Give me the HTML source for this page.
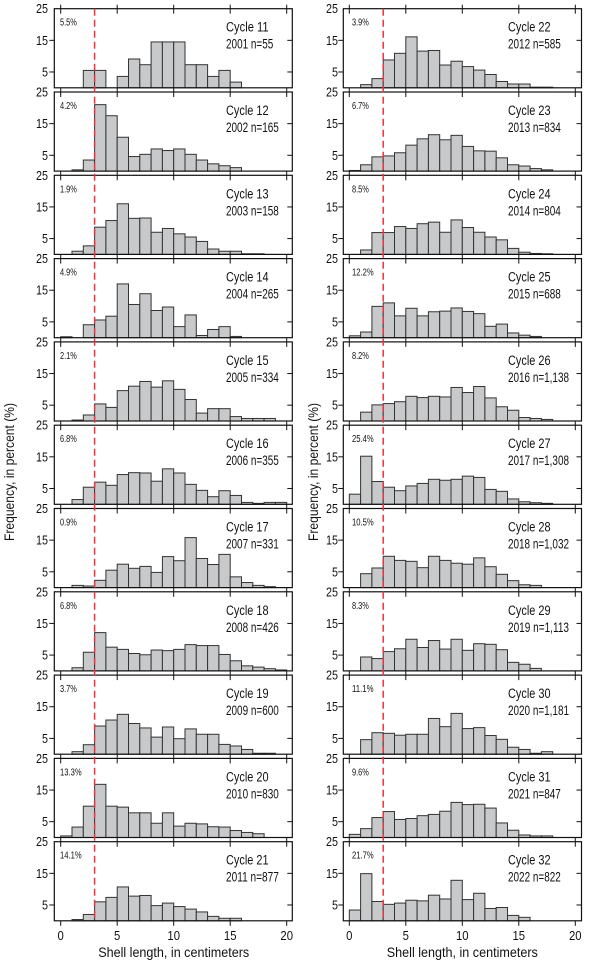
<!DOCTYPE html>
<html><head><meta charset="utf-8">
<style>
html,body{margin:0;padding:0;background:#fff;}
svg{display:block;}
text{font-family:"Liberation Sans Narrow","Liberation Sans",sans-serif;fill:#111;}
</style></head>
<body>
<svg id="s" width="616" height="963" viewBox="0 0 616 963" xmlns="http://www.w3.org/2000/svg"></svg>
<script>
const L=[
["5.5%","Cycle 11","2001 n=55",[0,0,5.5,5.5,0,3.6,9.1,7.3,14.5,14.5,14.5,7.3,7.3,3.6,5.5,1.8]],
["4.2%","Cycle 12","2002 n=165",[0,0.4,3.5,21,17.5,10.7,4.6,5.3,7,6.5,7,5.3,3.5,2.3,1.7,1.1]],
["1.9%","Cycle 13","2003 n=158",[0,1,2.7,8.6,10.7,16,11.4,11.5,7,8.2,6.5,5.5,4.1,1.7,1,1,0.2,0.2]],
["4.9%","Cycle 14","2004 n=265",[0.3,0,4.1,5.6,6.8,17,10.5,13.9,8.6,9.7,3.5,7.2,0.7,2.6,3.5,0.4]],
["2.1%","Cycle 15","2005 n=334",[0,0.3,1.9,5.4,4.3,9.6,11,12.5,10.7,12.7,10,6.8,2.5,3.9,3.9,1.4,0.8,0.8,0.8]],
["6.8%","Cycle 16","2006 n=355",[0,1.5,5.4,7,6,9.4,10,9.9,7.3,11.2,9.9,6.3,4.4,2.4,4.3,2.8,0.6,0.3,0.6,0.6]],
["0.9%","Cycle 17","2007 n=331",[0,0.7,0.5,2.3,5.5,7.4,6.1,6.7,4.8,9.8,8.5,15.8,9.2,7.3,10.5,3.4,1.6,0.7,0.3]],
["6.8%","Cycle 18","2008 n=426",[0,1,5.9,12.1,7.5,6.8,5.5,5.1,6.6,6.4,6.8,8.3,8,8,5.2,3.2,1.6,1.2,0.7,0.3]],
["3.7%","Cycle 19","2009 n=600",[0,0.8,3,8.9,10.8,12.6,9.7,8.3,5.4,8.6,4.9,8,6.3,6.3,3.1,2.6,1.5,0.3,0.3]],
["13.3%","Cycle 20","2010 n=830",[0.5,3.3,9.9,16.8,9.9,9.6,7.8,7.8,4.5,7.8,3.6,4.5,4.3,3.4,3.3,2.2,1.6,1.2]],
["14.1%","Cycle 21","2011 n=877",[0,0.4,2,6,7.4,10.7,7.8,8,4.8,5.6,4.5,3.7,2.8,1.4,0.8,0.8]]
];
const R=[
["3.9%","Cycle 22","2012 n=585",[0,1,2.9,8.8,10.9,16.1,11.6,11.8,7.2,8.4,6.7,5.6,4.2,2,1.2,1.2,0.2,0.2]],
["6.7%","Cycle 23","2013 n=834",[0.2,2,4.5,4.8,5.8,8.2,10.2,11.5,9.9,11.3,7.8,6.4,6.3,4.2,2,1.6,0.8,0.4]],
["8.5%","Cycle 24","2014 n=804",[0,1.4,6.9,6.9,8.8,8.2,9.7,10.2,7,10.9,8.5,7,5.5,4.6,1.9,0.7,0.3,0.2]],
["12.2%","Cycle 25","2015 n=688",[0.6,1.8,9.9,11,6.9,9.3,6.9,8.2,8.4,9.4,8.3,7.6,3.6,4.3,1.5,0.8,0.4]],
["8.2%","Cycle 26","2016 n=1,138",[0,2.8,5.1,5.5,6.1,7.8,7.4,7.8,7.6,10.6,9,10.9,7.3,4.5,3.4,1.1,0.8,0.5]],
["25.4%","Cycle 27","2017 n=1,308",[3.2,15.2,7.2,5.4,4.3,5.8,6.6,7.9,7.6,7.9,8.9,8.5,4.7,4.1,1.7,0.8,0.5,0.3]],
["10.5%","Cycle 28","2018 n=1,032",[0,4.4,6.2,9.9,8.6,8.3,6.3,9.9,8.6,7.7,7.4,9.4,6.6,4.2,2.2,0.9,0.7]],
["8.3%","Cycle 29","2019 n=1,113",[0,4.4,3.9,6.1,7,10,7.4,9.6,6.9,10,6.5,8.6,8.4,6.7,2.7,2.1,0.8]],
["11.1%","Cycle 30","2020 n=1,181",[0,4.6,6.8,6.6,6,6.3,6.3,11.3,8.7,12.9,8.1,8.4,5.9,4.7,2.2,1.5,0.3,0.8]],
["9.6%","Cycle 31","2021 n=847",[1,2.8,6.3,8.2,5.7,6,6.9,7.3,8.3,11.1,10.4,10.5,9.3,4.6,2.3,0.8,0.5,0.5]],
["21.7%","Cycle 32","2022 n=822",[3.4,14.9,6.1,5.2,5.6,6.5,6.3,8.1,6.9,12.8,6.7,8.7,3.9,4.2,1.7,1.1]]
];
const s=document.getElementById('s');const NS='http://www.w3.org/2000/svg';
function el(t,a,txt){const e=document.createElementNS(NS,t);for(const k in a)e.setAttribute(k,a[k]);if(txt!==undefined)e.textContent=txt;s.appendChild(e);return e;}
function tl(str,per){let w=0;for(const c of str){w+=(c===','||c==='.')?per*0.5:(c===' '?per*0.6:per);}return w;}
function tx(x,y,str,fs,per,anchor){const a={x:x,y:y,'font-size':fs,textLength:tl(str,per).toFixed(1),lengthAdjust:'spacingAndGlyphs'};if(anchor)a['text-anchor']=anchor;return el('text',a,str);}
const K=3.164, CM=11.3;
function col(data,fl,fr,x0,lblX,ytx,pctX){
 data.forEach((d,i)=>{
  const b=87.8+83.3*i, t=b-25*K;
  d[3].forEach((v,k)=>{ if(v<=0)return;
   el('rect',{x:x0+k*CM,y:b-v*K,width:CM,height:v*K,fill:'#c8c9cb',stroke:'#333','stroke-width':1});});
  el('rect',{x:fl,y:t,width:fr-fl,height:b-t,fill:'none',stroke:'#111','stroke-width':1.2});
  [5,15].forEach(v=>{const y=b-v*K;
   el('line',{x1:fl-5,y1:y,x2:fl,y2:y,stroke:'#111','stroke-width':1});
   el('line',{x1:fr-5,y1:y,x2:fr,y2:y,stroke:'#111','stroke-width':1});});
  [0,5,10,15,20].forEach(c=>{const x=x0+c*CM;
   el('line',{x1:x,y1:t-4,x2:x,y2:t+5,stroke:'#111','stroke-width':1});});
  [[25,b-25*K],[15,b-15*K],[5,b-5*K]].forEach(([v,y])=>{
   tx(ytx,y+4.5,String(v),12.5,6,'end');});
  tx(pctX,t+17,d[0],10,4.8);
  tx(lblX,t+23,d[1],13.5,5.6);
  tx(lblX,t+40,d[2],13.5,5.5);
 });
 const bl=87.8+83.3*10;
 [0,5,10,15,20].forEach(c=>{const x=x0+c*CM;
  el('line',{x1:x,y1:bl,x2:x,y2:bl+5,stroke:'#111','stroke-width':1});
  tx(x,bl+19,String(c),13,6.3,'middle');});
 el('text',{x:x0+10*CM,y:bl+36,'text-anchor':'middle','font-size':14,textLength:151,lengthAdjust:'spacingAndGlyphs'},'Shell length, in centimeters');
 el('line',{x1:x0+3*CM,y1:8.7,x2:x0+3*CM,y2:bl,stroke:'#e8353f','stroke-width':1.5,'stroke-dasharray':'7,4'});
}
col(L,54.3,292.3,60.7,226,48,60);
col(R,343.3,581.5,349.3,508,338,352);
el('text',{x:0,y:0,transform:'translate(14,472) rotate(-90)','text-anchor':'middle','font-size':14,textLength:138,lengthAdjust:'spacingAndGlyphs'},'Frequency, in percent (%)');
el('text',{x:0,y:0,transform:'translate(318,472) rotate(-90)','text-anchor':'middle','font-size':14,textLength:138,lengthAdjust:'spacingAndGlyphs'},'Frequency, in percent (%)');
</script>
</body></html>
